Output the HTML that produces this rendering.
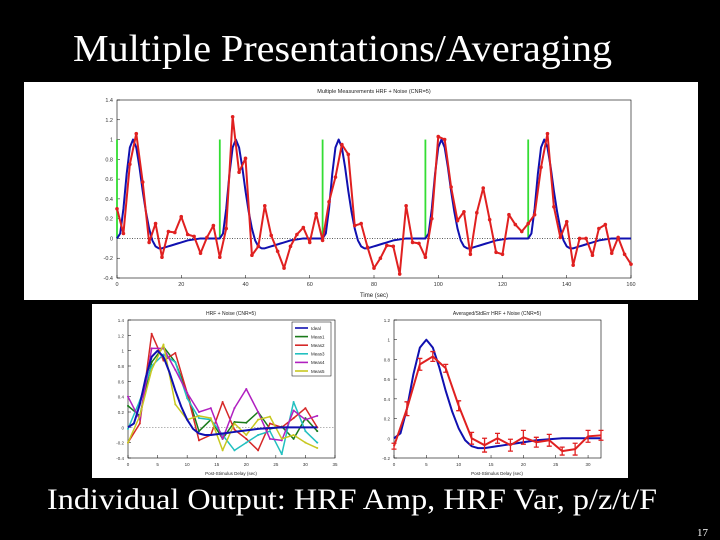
<!DOCTYPE html>
<html><head><meta charset="utf-8"><style>
body{margin:0;background:#000;width:720px;height:540px;overflow:hidden}
svg{display:block}
</style></head><body>
<svg id="s" width="720" height="540" xmlns="http://www.w3.org/2000/svg" font-family="Liberation Sans, sans-serif">
<rect width="720" height="540" fill="#000"/>
<text x="73" y="61" font-family="Liberation Serif, serif" font-size="38" textLength="539" lengthAdjust="spacingAndGlyphs" fill="#fff">Multiple Presentations/Averaging</text>
<text x="47" y="509" font-family="Liberation Serif, serif" font-size="30" textLength="610" lengthAdjust="spacingAndGlyphs" fill="#fff">Individual Output: HRF Amp, HRF Var, p/z/t/F</text>
<text x="697" y="536" font-family="Liberation Serif, serif" font-size="11" fill="#fff">17</text>
<rect x="24" y="82" width="674" height="218" fill="#fff"/>
<rect x="92" y="304" width="536" height="174" fill="#fff"/>
<g id="top"></g>
<g id="bl"></g>
<g id="br"></g>
</svg>
<script>
// ---- data ----
const hrfShape=[0,0.05,0.3,0.65,0.92,1.0,0.92,0.72,0.48,0.27,0.1,-0.02,-0.08,-0.1,-0.1,-0.09,-0.08,-0.07,-0.06,-0.05,-0.04,-0.03,-0.02,-0.015,-0.01,-0.005,0,0,0,0,0,0,0];
const onsets=[0,32,64,96,128];
const measured=[0.3,0.05,0.75,1.06,0.57,-0.04,0.15,-0.19,0.07,0.06,0.22,0.04,0.02,-0.15,0.01,0.13,-0.19,0.1,1.23,0.67,0.81,-0.17,-0.08,0.33,0.03,-0.13,-0.3,-0.08,0.04,0.11,-0.04,0.25,-0.02,0.37,0.62,0.95,0.85,0.13,0.15,-0.09,-0.3,-0.2,-0.07,-0.08,-0.36,0.33,-0.04,-0.05,-0.19,0.2,1.03,1.0,0.52,0.18,0.27,-0.16,0.26,0.51,0.19,-0.14,-0.16,0.24,0.14,0.07,0.15,0.24,0.72,1.06,0.32,0.01,0.17,-0.27,0.0,0.0,-0.17,0.1,0.14,-0.15,0.01,-0.16,-0.26];
const topYTicks=["-0.4","-0.2","0","0.2","0.4","0.6","0.8","1","1.2","1.4"];
const topXTicks=[0,20,40,60,80,100,120,140,160];
const measNames=["Meas1","Meas2","Meas3","Meas4","Meas5"];
const meas1=[0.28,0.15,0.85,1.05,0.85,0.45,-0.05,0.1,-0.15,0.07,0.06,0.2,-0.02,0.01,-0.15,0.12,-0.05];
const meas2=[-0.2,0.05,1.22,0.87,0.97,0.45,-0.17,-0.1,0.33,-0.03,-0.15,-0.3,0.05,0.0,0.12,0.25,0.0];
const meas3=[-0.02,0.35,0.8,0.95,0.85,0.38,0.12,0.1,-0.1,-0.3,-0.2,-0.1,-0.05,-0.35,0.33,-0.05,-0.2];
const meas4=[0.4,0.1,1.03,1.03,0.75,0.45,0.2,0.25,-0.15,0.25,0.5,0.2,-0.15,-0.17,0.22,0.1,0.15];
const meas5=[-0.2,0.15,0.75,1.08,0.3,0.1,0.15,0.12,-0.3,0.05,-0.1,0.1,0.14,-0.15,-0.1,-0.2,-0.27];
const avgMean=[-0.08,0.3,0.75,0.83,0.71,0.33,0.0,-0.07,0.0,-0.07,0.01,-0.04,-0.02,-0.13,-0.11,0.02,0.03];
const avgErr=[0.03,0.07,0.06,0.05,0.04,0.05,0.06,0.07,0.05,0.06,0.07,0.05,0.06,0.04,0.06,0.06,0.05];
const blYTicks=["-0.4","-0.2","0","0.2","0.4","0.6","0.8","1","1.2","1.4"];
const blXTicks=[0,5,10,15,20,25,30,35];
const brYTicks=["-0.2","0","0.2","0.4","0.6","0.8","1","1.2"];
const brXTicks=[0,5,10,15,20,25,30];
const NS="http://www.w3.org/2000/svg";
function mk(p,tag,at){const e=document.createElementNS(NS,tag);for(const k in at)e.setAttribute(k,at[k]);p.appendChild(e);return e;}
function axes(g,x0,x1,y0,y1,X,Y,yt,xt,fs){
 const fr=mk(g,'rect',{x:x0,y:y0,width:x1-x0,height:y1-y0,fill:'none',stroke:'#000','stroke-width':0.6});
 
 yt.forEach(v=>{const y=Y(+v);mk(g,'line',{x1:x0,x2:x0+3,y1:y,y2:y,stroke:'#000','stroke-width':0.5});
  const t=mk(g,'text',{x:x0-4,y:y+2,'font-size':fs,'text-anchor':'end',fill:'#333'});t.textContent=v;
  });
 xt.forEach(v=>{const x=X(v);mk(g,'line',{x1:x,x2:x,y1:y1,y2:y1-3,stroke:'#000','stroke-width':0.5});
  const t=mk(g,'text',{x:x,y:y1+8,'font-size':fs,'text-anchor':'middle',fill:'#333'});t.textContent=v;
  });
}
function pl(g,pts,col,w){return mk(g,'polyline',{points:pts.map(p=>p.join(',')).join(' '),fill:'none',stroke:col,'stroke-width':w,'stroke-linejoin':'round'});}
// ---- top chart ----
(function(){
 const g=document.getElementById('top');
 const x0=117,x1=631,y0=100,y1=278;
 const X=t=>x0+(t/160)*(x1-x0), Y=v=>y1-(v+0.4)/1.8*(y1-y0);
 axes(g,x0,x1,y0,y1,X,Y,topYTicks,topXTicks,5.5);
 const tt=mk(g,'text',{x:374,y:93,'font-size':5.5,'text-anchor':'middle',fill:'#222'});tt.textContent='Multiple Measurements HRF + Noise (CNR=5)';
 
 const xl=mk(g,'text',{x:374,y:297,'font-size':6,'text-anchor':'middle',fill:'#222'});xl.textContent='Time (sec)';
 
 const z=mk(g,'line',{x1:x0,x2:x1,y1:Y(0),y2:Y(0),stroke:'#444','stroke-dasharray':'1,1.5','stroke-width':0.8});
 
 onsets.forEach(o=>{const l=mk(g,'line',{x1:X(o),x2:X(o),y1:Y(0),y2:Y(1),stroke:'#33dd33','stroke-width':1.8});
  });
 const blue=[];for(let t=0;t<=160;t+=0.5){let v=0;onsets.forEach(o=>{const d=t-o;if(d>=0&&d<hrfShape.length-1){const i=Math.floor(d),f=d-i;v+=hrfShape[i]*(1-f)+hrfShape[i+1]*f;}});blue.push([X(t),Y(v)]);}
 const b=pl(g,blue,'#1010b0',2);
 const rp=measured.map((v,i)=>[X(i*2),Y(v)]);
 const r=pl(g,rp,'#e02020',2);
 rp.forEach(p=>{const c=mk(g,'circle',{cx:p[0],cy:p[1],r:1.8,fill:'#e02020'});});
})();
// ---- bottom-left ----
(function(){
 const g=document.getElementById('bl');
 const x0=128,x1=335,y0=320,y1=458;
 const X=t=>x0+(t/35)*(x1-x0), Y=v=>y1-(v+0.4)/1.8*(y1-y0);
 axes(g,x0,x1,y0,y1,X,Y,blYTicks,blXTicks,4.5);
 const tt=mk(g,'text',{x:231,y:315,'font-size':5,'text-anchor':'middle',fill:'#222'});tt.textContent='HRF + Noise (CNR=5)';
 
 const xl=mk(g,'text',{x:231,y:475,'font-size':4.5,'text-anchor':'middle',fill:'#222'});xl.textContent='Post-Stimulus Delay (sec)';
 
 mk(g,'line',{x1:x0,x2:x1,y1:Y(0),y2:Y(0),stroke:'#888','stroke-dasharray':'1.5,1.5','stroke-width':0.6});
 const cols=['#1a7a1a','#d62828','#22c0c0','#b020c0','#c8c820'];
 [meas1,meas2,meas3,meas4,meas5].forEach((s,k)=>{const p=s.map((v,i)=>[X(i*2),Y(v)]);
  const l=pl(g,p,cols[k],1.5);
  p.forEach(q=>{const c=mk(g,'circle',{cx:q[0],cy:q[1],r:1,fill:cols[k]});});});
 const blue=[];for(let t=0;t<=32;t+=0.5){const i=Math.floor(t),f=t-i;blue.push([X(t),Y(hrfShape[i]*(1-f)+hrfShape[Math.min(i+1,32)]*f)]);}
 const b=pl(g,blue,'#1010b0',2);
 const lg=mk(g,'g',{});
 mk(lg,'rect',{x:292,y:322,width:39,height:54,fill:'#fff',stroke:'#000','stroke-width':0.5});
 ['Ideal'].concat(measNames).forEach((n,i)=>{const y=328+i*8.6;const c=i?cols[i-1]:'#1010b0';
  mk(lg,'line',{x1:295,x2:308,y1:y,y2:y,stroke:c,'stroke-width':1.6});
  const t=mk(lg,'text',{x:311,y:y+1.8,'font-size':4.5,fill:'#222'});t.textContent=n;
  });
})();
// ---- bottom-right ----
(function(){
 const g=document.getElementById('br');
 const x0=394,x1=601,y0=320,y1=458;
 const X=t=>x0+(t/32)*(x1-x0), Y=v=>y1-(v+0.2)/1.4*(y1-y0);
 axes(g,x0,x1,y0,y1,X,Y,brYTicks,brXTicks,4.5);
 const tt=mk(g,'text',{x:497,y:315,'font-size':5,'text-anchor':'middle',fill:'#222'});tt.textContent='Averaged/StdErr HRF + Noise (CNR=5)';
 
 const xl=mk(g,'text',{x:497,y:475,'font-size':4.5,'text-anchor':'middle',fill:'#222'});xl.textContent='Post-Stimulus Delay (sec)';
 
 const blue=[];for(let t=0;t<=32;t+=0.5){const i=Math.floor(t),f=t-i;blue.push([X(t),Y(hrfShape[i]*(1-f)+hrfShape[Math.min(i+1,32)]*f)]);}
 const b=pl(g,blue,'#1010b0',2);
 const p=avgMean.map((v,i)=>[X(i*2),Y(v)]);
 const r=pl(g,p,'#e02020',2);
 avgMean.forEach((v,i)=>{const x=X(i*2),a=Y(v+avgErr[i]),c=Y(v-avgErr[i]);
  const e=mk(g,'path',{d:`M${x},${a}V${c}M${x-2.5},${a}h5M${x-2.5},${c}h5`,stroke:'#e02020','stroke-width':1.3,fill:'none'});
  });
})();
</script>
</body></html>
